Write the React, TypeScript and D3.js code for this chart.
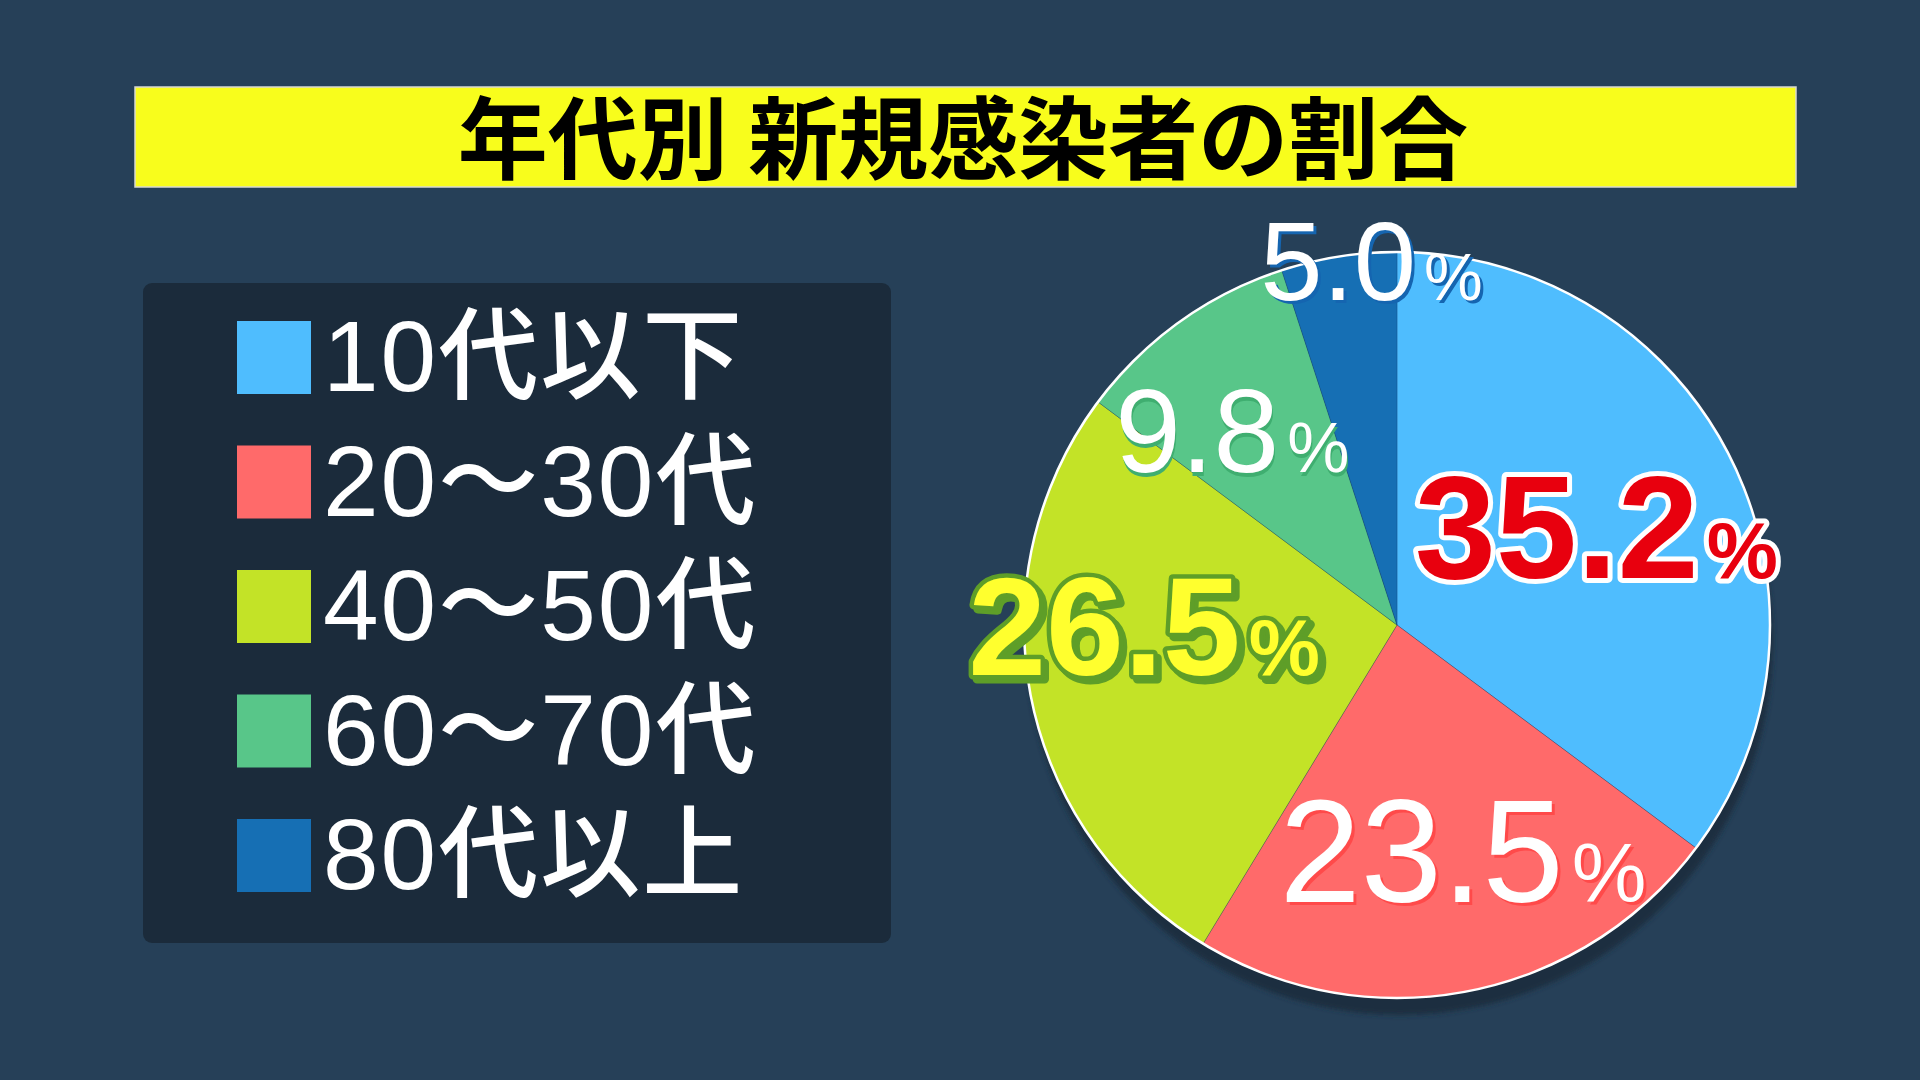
import React from 'react';
import * as d3 from 'd3';

const title = '年代別 新規感染者の割合';
const categories = ['10代以下', '20～30代', '40～50代', '60～70代', '80代以上'];
const values = [35.2, 23.5, 26.5, 9.8, 5.0];
const sliceColors = ['#4fbdfe', '#ff6a6a', '#c3e327', '#58c689', '#166fb4'];

// label styling / placement (layout only)
const labelLayout = [
  { r: 223, dA: 0, size: 146, pct: 80, weight: 700, fill: '#e8000e', stroke: '#ffffff', strokeW: 10, shadow: '', ox: 0, oy: 0 },
  { r: 234, dA: -5.4, size: 146, pct: 84, weight: 400, fill: '#ffffff', stroke: '', strokeW: 0, shadow: '#ff4a4a', ox: 3, oy: 3 },
  { r: 253, dA: 11, size: 140, pct: 80, weight: 700, fill: '#ffff2e', stroke: '#5e9e28', strokeW: 9, shadow: '#5e9e28', ox: 4, oy: 4 },
  { r: 256, dA: -4.4, size: 118, pct: 70, weight: 400, fill: '#ffffff', stroke: '', strokeW: 0, shadow: '#3fae70', ox: 1, oy: 4 },
  { r: 366, dA: 5, size: 112, pct: 66, weight: 400, fill: '#ffffff', stroke: '', strokeW: 0, shadow: '#1565b0', ox: 3, oy: 3 },
];

export default function App() {
  const W = 1920, H = 1080;
  const cx = 1397, cy = 625, R = 373;
  const pie = d3.pie<number>().sort(null).value((d) => d);
  const arcs = pie(values);
  const arc = d3.arc<d3.PieArcDatum<number>>().innerRadius(0).outerRadius(R);
  const fmt = d3.format('.1f');
  const legendY = d3.scalePoint<string>().domain(categories).range([357, 855]);
  const numFont = '"Liberation Sans", Arial, sans-serif';
  const jpFont = '"Noto Sans CJK JP", sans-serif';
  const legendFont = '"Liberation Sans", "Noto Sans CJK JP", sans-serif';

  return (
    <svg width={W} height={H} style={{ position: 'absolute', left: 0, top: 0, display: 'block' }}>
      <defs>
        <filter id="pieShadow" x="-20%" y="-20%" width="140%" height="140%">
          <feGaussianBlur stdDeviation="2.5" />
        </filter>
      </defs>
      <rect x={0} y={0} width={W} height={H} fill="#264058" />

      {/* Title */}
      <rect x={135} y={87} width={1661} height={100} fill="#f8fd1c" stroke="#d8d8d0" strokeWidth={1.5} />
      <text x={963} y={172} textAnchor="middle" fontFamily={jpFont} fontWeight={700} fontSize={90} fill="#000">
        {title}
      </text>

      {/* Legend */}
      <rect x={143} y={283} width={748} height={660} rx={9} ry={9} fill="#1b2b3b" />
      {categories.map((c, i) => {
        const y = legendY(c) as number;
        return (
          <g key={c}>
            <rect x={237} y={y - 36} width={74} height={73} fill={sliceColors[i]} />
            <text x={323} y={y + 34} fontFamily={legendFont} fontWeight={500} fontSize={100} letterSpacing={2} fill="#ffffff">
              {c}
            </text>
          </g>
        );
      })}

      {/* Pie */}
      <circle cx={cx + 3} cy={cy + 17} r={R} fill="#1b2e3f" filter="url(#pieShadow)" />
      <g transform={`translate(${cx},${cy})`}>
        {arcs.map((a, i) => (
          <path key={i} d={arc(a) || ''} fill={sliceColors[i]} stroke="rgba(20,60,110,0.35)" strokeWidth={0.8} />
        ))}
        <circle cx={0} cy={0} r={R} fill="none" stroke="#ffffff" strokeWidth={2.5} />
        {arcs.map((a, i) => {
          const L = labelLayout[i];
          const mid = (a.startAngle + a.endAngle) / 2 + (L.dA * Math.PI) / 180;
          const x = L.r * Math.sin(mid);
          const y = -L.r * Math.cos(mid) + L.size * 0.36;
          const content = (
            <>
              {fmt(values[i])}
              <tspan fontSize={L.pct} dx={8}>%</tspan>
            </>
          );
          return (
            <g key={'l' + i} fontFamily={numFont} fontWeight={L.weight} fontSize={L.size} textAnchor="middle">
              {L.shadow && (
                <text x={x + L.ox} y={y + L.oy} fill={L.shadow} stroke={L.stroke ? L.shadow : 'none'} strokeWidth={L.strokeW} strokeLinejoin="round">
                  {content}
                </text>
              )}
              <text x={x} y={y} fill={L.fill} stroke={L.stroke || 'none'} strokeWidth={L.strokeW} strokeLinejoin="round" paintOrder="stroke">
                {content}
              </text>
            </g>
          );
        })}
      </g>
    </svg>
  );
}
